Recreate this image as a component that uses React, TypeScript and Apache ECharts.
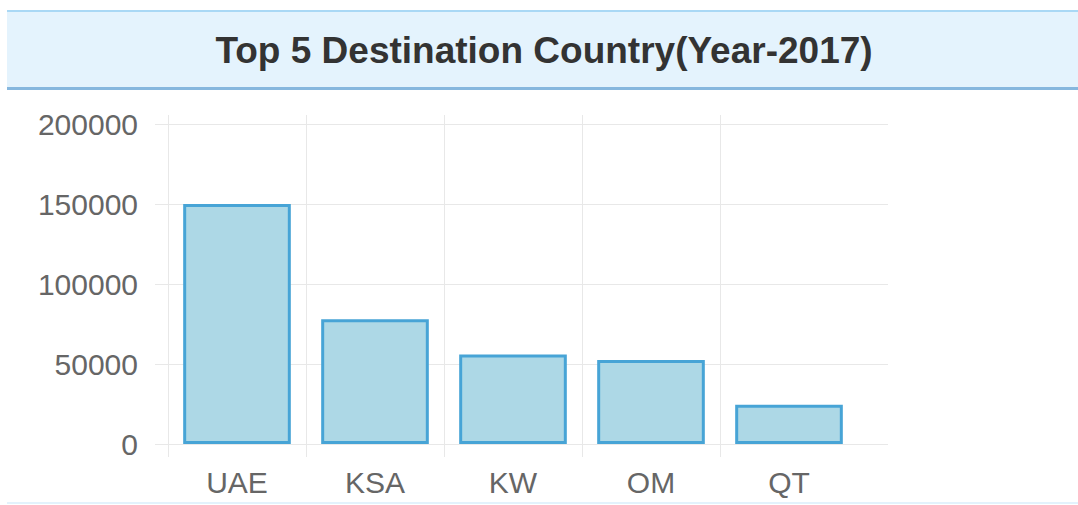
import React, { useEffect, useRef } from "react";
import * as echarts from "echarts";

const titleText = "Top 5 Destination Country(Year-2017)";
const countries = ["UAE", "KSA", "KW", "OM", "QT"];
const destinationCounts = [150000, 78000, 56000, 52500, 24500];
const yMin = 0;
const yMax = 200000;
const yInterval = 50000;

export default function App() {
  const ref = useRef<HTMLDivElement>(null);
  useEffect(() => {
    if (!ref.current) return;
    const chart = echarts.init(ref.current, null, { renderer: "svg" });
    const font = "'Liberation Sans', Arial, Helvetica, sans-serif";
    const gridColor = "#e8e8e8";
    const valTop = 124;
    const bottom = 61;
    const plotH = 505 - bottom - valTop;
    // bar grid: vertical lines run from 115 to 457
    const barTop = 115;
    const barBottom = 48;
    const barMax = yMax * (505 - bottom - barTop) / plotH;
    const barMin = -yMax * (bottom - barBottom) / plotH;
    chart.setOption({
      animation: false,
      backgroundColor: "#ffffff",
      textStyle: { fontFamily: font },
      graphic: [
        { type: "rect", shape: { x: 7, y: 12, width: 1071, height: 77 }, style: { fill: "#e4f3fd" }, silent: true },
        { type: "rect", shape: { x: 7, y: 10, width: 1071, height: 2 }, style: { fill: "#a9d8f5" }, silent: true },
        { type: "rect", shape: { x: 7, y: 87, width: 1071, height: 3 }, style: { fill: "#86b7de" }, silent: true },
        { type: "rect", shape: { x: 7, y: 502, width: 1071, height: 2 }, style: { fill: "#e3f2fc" }, silent: true },
        {
          type: "text",
          x: 544,
          y: 50,
          style: {
            text: titleText,
            font: `bold 37px ${font}`,
            fill: "#333333",
            textAlign: "center",
            textVerticalAlign: "middle",
          },
          silent: true,
        },
      ],
      grid: [
        { left: 155, right: 190, top: valTop, bottom: bottom, containLabel: false },
        { left: 168, right: 220, top: barTop, bottom: barBottom, containLabel: false },
      ],
      xAxis: [
        { gridIndex: 0, type: "value", min: 0, max: 1, show: false },
        {
          gridIndex: 1,
          type: "category",
          data: countries,
          boundaryGap: true,
          axisLine: { show: false },
          axisTick: { show: false },
          splitLine: { show: true, showMaxLine: false, lineStyle: { color: gridColor, width: 1 } },
          axisLabel: { color: "#666666", fontSize: 30, margin: 10, fontFamily: font },
        },
      ],
      yAxis: [
        {
          gridIndex: 0,
          type: "value",
          min: yMin,
          max: yMax,
          interval: yInterval,
          axisLine: { show: false },
          axisTick: { show: false },
          splitLine: { show: true, lineStyle: { color: gridColor, width: 1 } },
          axisLabel: {
            color: "#666666",
            fontSize: 30,
            margin: 17,
            fontFamily: font,
            formatter: (v: number) => String(v),
          },
        },
        {
          gridIndex: 1,
          type: "value",
          min: barMin,
          max: barMax,
          show: false,
          splitLine: { show: false },
        },
      ],
      series: [
        {
          type: "bar",
          xAxisIndex: 1,
          yAxisIndex: 1,
          data: destinationCounts,
          barWidth: "78%",
          itemStyle: { color: "#add8e6", borderColor: "#47a4d6", borderWidth: 3 },
        },
      ],
    });
    return () => chart.dispose();
  }, []);
  return (
    <div
      ref={ref}
      style={{ position: "fixed", left: 0, top: 0, width: 1078, height: 505 }}
    />
  );
}
